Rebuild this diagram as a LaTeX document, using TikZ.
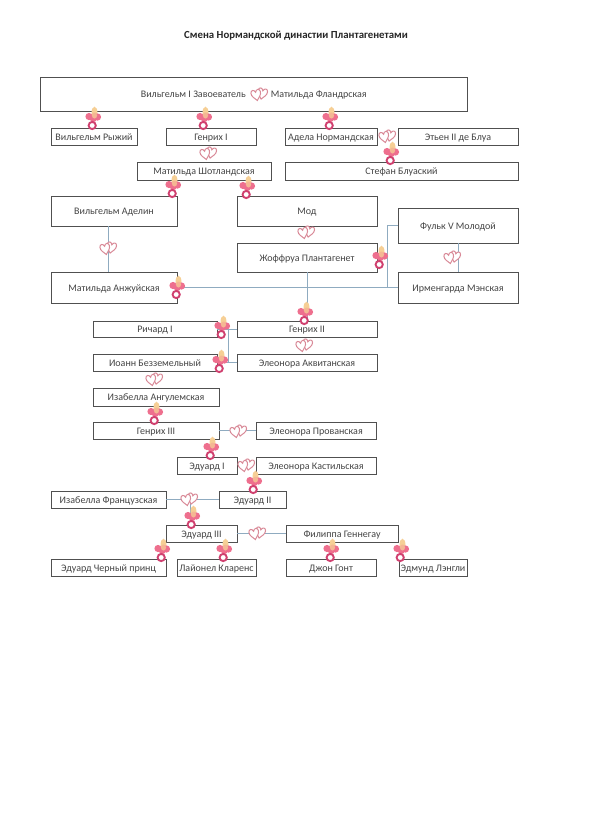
\documentclass[tikz,border=0pt]{standalone}
\usepackage{fontspec}
\setmainfont{Carlito}
\definecolor{bxline}{HTML}{505050}
\definecolor{txt}{HTML}{444444}
\definecolor{conn}{HTML}{8FABC0}
\definecolor{hrt}{HTML}{D98A98}
\definecolor{shield}{HTML}{EE6F8E}
\definecolor{ringc}{HTML}{D0406F}
\definecolor{nip}{HTML}{F6CF95}
\tikzset{
  bxstyle/.style={draw=bxline,line width=1pt,fill=white,inner sep=0pt,outer sep=0pt,text=txt,font=\fontsize{10}{12}\selectfont,align=center,text height=8pt,text depth=1pt},
  link/.style={draw=conn,line width=1pt},
  hearts/.pic={
    \foreach \dx/\dy/\ang in {4.2/-1/-12,-3.6/0.8/12}{
      \begin{scope}[shift={(\dx,\dy)},rotate=\ang]
      \path[draw=hrt,fill=white,line width=1pt]
        (0,7.5) .. controls (-2.5,4) and (-6.5,1.5) .. (-6,-3)
        .. controls (-5.5,-7) and (-1.2,-7) .. (0,-3)
        .. controls (1.2,-7) and (5.5,-7) .. (6,-3)
        .. controls (6.5,1.5) and (2.5,4) .. (0,7.5) -- cycle;
      \end{scope}
    }
  },
  pacifier/.pic={
    \fill[nip] (1.5,-5) ellipse (3 and 6.3);
    \fill[shield] (-4,-1.5) circle (3.6);
    \fill[shield] (4.5,-1) circle (3.6);
    \fill[shield] (0.3,0.5) circle (3.6);
    \fill[nip!75!shield] (1.5,-2.5) ellipse (2.6 and 3);
    \draw[ringc,line width=1.9pt,fill=white] (-0.8,7.5) circle (3.6);
  }
}
\newcommand{\bx}[6]{%
  \pgfmathsetmacro{\bxcx}{(#2+#4)/2}\pgfmathsetmacro{\bxcy}{(#3+#5)/2}%
  \pgfmathsetmacro{\bxw}{#4-#2}\pgfmathsetmacro{\bxh}{#5-#3}%
  \node[bxstyle,minimum width=\bxw pt,minimum height=\bxh pt] (#1) at (\bxcx,\bxcy) {#6};}
\begin{document}
\begin{tikzpicture}[x=1pt,y=-1pt]
\useasboundingbox (0,0) rectangle (591,828);
\node[font=\fontsize{10.8}{13}\selectfont\bfseries,text=black!85] (title) at (296,35.5) {Смена Нормандской династии Плантагенетами};
% boxes
\bx{wc}{40.5}{77}{467}{111}{Вильгельм I Завоеватель\hspace{25pt}Матильда Фландрская}
\bx{wr}{51}{128}{137}{145}{Вильгельм Рыжий}
\bx{h1}{166}{128}{256}{145}{Генрих I}
\bx{an}{285}{128}{377}{145}{Адела Нормандская}
\bx{eb}{398}{128}{518}{145}{Этьен II де Блуа}
\bx{ms}{137}{162}{271}{180}{Матильда Шотландская}
\bx{sb}{285}{162}{518}{180}{Стефан Блуаский}
\bx{wa}{51}{196}{177}{226}{Вильгельм Аделин}
\bx{md}{237}{196}{377}{226}{Мод}
\bx{fv}{398}{208}{518}{243}{Фульк V Молодой}
\bx{jp}{237}{243}{377}{272}{Жоффруа Плантагенет}
\bx{im}{398}{272}{518}{303}{Ирменгарда Мэнская}
\bx{ma}{51}{272}{177}{303}{Матильда Анжуйская}
\bx{ri}{93}{321}{217}{337}{Ричард I}
\bx{h2}{237}{321}{377}{337}{Генрих II}
\bx{jl}{93}{354}{217}{371}{Иоанн Безземельный}
\bx{ea}{237}{354}{377}{371}{Элеонора Аквитанская}
\bx{ia}{93}{388}{219}{406}{Изабелла Ангулемская}
\bx{h3}{93}{422}{219}{439}{Генрих III}
\bx{ep}{256}{422}{376}{439}{Элеонора Прованская}
\bx{e1}{177}{457}{237}{474}{Эдуард I}
\bx{ek}{256}{457}{376}{474}{Элеонора Кастильская}
\bx{if}{51}{491}{166}{508}{Изабелла Французская}
\bx{e2}{219}{491}{286}{508}{Эдуард II}
\bx{e3}{166}{525}{237}{542}{Эдуард III}
\bx{ph}{286}{525}{398}{542}{Филиппа Геннегау}
\bx{bp}{51}{559}{166}{576}{Эдуард Черный принц}
\bx{lc}{177}{559}{256}{576}{Лайонел Кларенс}
\bx{jg}{286}{559}{376}{576}{Джон Гонт}
\bx{el}{399}{559}{467}{576}{Эдмунд Лэнгли}
% connectors
\coordinate (wacol) at (108,248);
\coordinate (busa) at (228,329);
\coordinate (busb) at (228,362);
\coordinate (busc) at (387,287);
\coordinate (busd) at (387,225);
\coordinate (ifm) at (190,499);
\path[link] (wa.south -| wacol) -- (ma.north -| wacol);
\path[link] (ma.east |- busc) -- (im.west |- busc);
\path[link] (fv.west |- busd) -- (busd) -- (busc);
\path[link] (jp.south) -- (h2.north);
\path[link] (fv.south) -- (im.north);
\path[link] (ri.east |- busa) -- (h2.west |- busa);
\path[link] (jl.east |- busb) -- (ea.west |- busb);
\path[link] (busa) -- (busb);
\path[link] (h3.east) -- (ep.west);
\path[link] (if.east) -- (e2.west);
\path[link] (e3.east) -- (ph.west);
\path[link] (ifm) -- (e3.north -| ifm);
% hearts
\foreach \p in {(259,94),(208,153),(387,136),(108,248),(306,232),(452,257),(304,345),(154,379),(238,431),(246,465),(189,499),(257,533)}
  \pic[scale=0.8] at \p {hearts};
% pacifiers
\foreach \p in {(93,118),(204,118),(330,118),(391,153),(173,186),(247,187),(380,257),(177,287),(305,313),(222,327),(220,361),(155,413),(211,448),(254,482),(192,517),(162,550),(224,550),(331,550),(401,550)}
  \pic at \p {pacifier};
\end{tikzpicture}
\end{document}
